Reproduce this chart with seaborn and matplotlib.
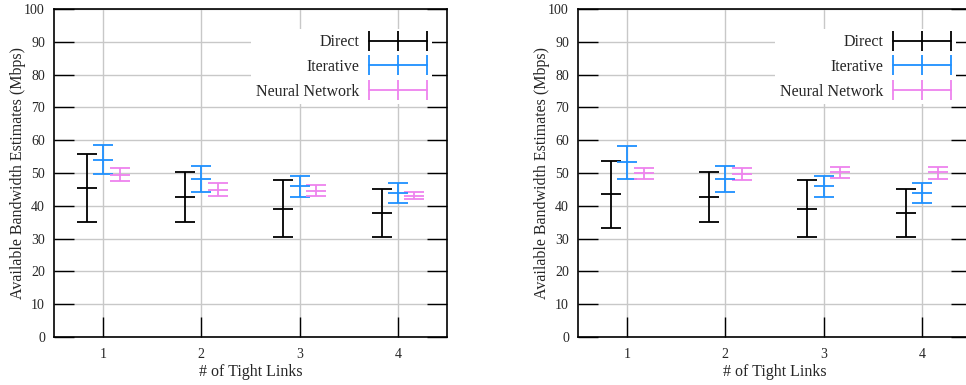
import numpy as np
import pandas as pd
import matplotlib
matplotlib.use("Agg")
import matplotlib.pyplot as plt
import seaborn as sns
from matplotlib.lines import Line2D
from matplotlib.legend_handler import HandlerLine2D

# ---------------- data ----------------
links = [1, 2, 3, 4]
series = ["Direct", "Iterative", "Neural Network"]
colors = ["#000000", "#1e90ff", "#ee82ee"]

# left panel
left_direct_mean = [45.4, 42.6, 39.0, 37.7]
left_direct_low = [35.0, 35.0, 30.6, 30.5]
left_direct_high = [55.8, 50.3, 47.8, 45.0]
left_iter_mean = [54.0, 48.2, 45.9, 44.0]
left_iter_low = [49.7, 44.1, 42.8, 40.9]
left_iter_high = [58.5, 52.2, 49.2, 46.8]
left_nn_mean = [49.5, 44.9, 44.5, 43.1]
left_nn_low = [47.6, 43.0, 42.9, 42.2]
left_nn_high = [51.4, 46.9, 46.2, 44.1]

# right panel
right_direct_mean = [43.6, 42.6, 39.0, 37.7]
right_direct_low = [33.3, 35.0, 30.6, 30.5]
right_direct_high = [53.8, 50.3, 47.8, 45.0]
right_iter_mean = [53.3, 48.2, 45.9, 44.0]
right_iter_low = [48.2, 44.1, 42.8, 40.9]
right_iter_high = [58.2, 52.2, 49.2, 46.8]
right_nn_mean = [49.9, 49.7, 50.2, 50.2]
right_nn_low = [48.2, 47.8, 48.6, 48.3]
right_nn_high = [51.5, 51.4, 51.8, 51.7]

yticks = [0, 10, 20, 30, 40, 50, 60, 70, 80, 90, 100]
xlabel = "# of Tight Links"
ylabel = "Available Bandwidth Estimates (Mbps)"


def make_frame(means, lows, highs):
    rows = []
    for s, m, lo, hi in zip(series, means, lows, highs):
        for l, mv, lv, hv in zip(links, m, lo, hi):
            rows.append(dict(series=s, links=l, mean=mv, low=lv, high=hv))
    return pd.DataFrame(rows)


left_df = make_frame([left_direct_mean, left_iter_mean, left_nn_mean],
                     [left_direct_low, left_iter_low, left_nn_low],
                     [left_direct_high, left_iter_high, left_nn_high])
right_df = make_frame([right_direct_mean, right_iter_mean, right_nn_mean],
                      [right_direct_low, right_iter_low, right_nn_low],
                      [right_direct_high, right_iter_high, right_nn_high])

# ---------------- style ----------------
sns.set_style("white")
plt.rcParams["font.family"] = ["Liberation Serif", "DejaVu Serif"]
plt.rcParams["mathtext.fontset"] = "dejavuserif"

DPI = 100
fig = plt.figure(figsize=(966 / DPI, 385 / DPI), dpi=DPI)

W, H = 966.0, 385.0
ax_w = 393 / W
ax_b = (H - 337) / H
ax_h = 328 / H
ax_left = fig.add_axes([54 / W, ax_b, ax_w, ax_h])
ax_right = fig.add_axes([578 / W, ax_b, ax_w, ax_h])

offsets = {"Direct": -1 / 6, "Iterative": 0.0, "Neural Network": 1 / 6}
palette = dict(zip(series, colors))
CAP = 7.2     # points (half width of cap)
LW = 1.3
FS = 11.5


def draw(ax, df):
    df = df.copy()
    df["xpos"] = df["links"] + df["series"].map(offsets)
    for s in series:
        d = df[df["series"] == s]
        ax.errorbar(d["xpos"], d["mean"],
                    yerr=[d["mean"] - d["low"], d["high"] - d["mean"]],
                    fmt="none", ecolor=palette[s], elinewidth=LW,
                    capsize=CAP, capthick=LW, zorder=3)
    sns.scatterplot(data=df, x="xpos", y="mean", hue="series",
                    palette=palette, marker="_", s=(2 * CAP) ** 2,
                    linewidth=LW, legend=False, ax=ax, zorder=4)

    ax.set_xlim(0.5, 4.5)
    ax.set_ylim(0, 100)
    ax.set_xticks(links)
    ax.set_xticklabels([str(l) for l in links])
    ax.set_yticks(yticks)
    ax.set_yticklabels([str(t) for t in yticks])
    ax.grid(True, color="#c8c8c8", linewidth=1.0, zorder=0)
    ax.set_axisbelow(True)
    ax.tick_params(axis="y", direction="in", length=14.4, width=1.0,
                   left=True, right=True, labelsize=10, pad=6.5, color="black")
    ax.tick_params(axis="x", direction="in", length=14.4, width=1.0,
                   bottom=True, top=False, labelsize=10, pad=8, color="black")
    for sp in ax.spines.values():
        sp.set_visible(True)
        sp.set_color("black")
        sp.set_linewidth(1.2)
    ax.set_xlabel(xlabel, fontsize=FS, labelpad=2)
    ax.set_ylabel(ylabel, fontsize=FS)
    ax.yaxis.set_label_coords(-0.0725, 0.5)

    handles = [Line2D([], [], color=c, marker="|", markersize=14.4,
                      markeredgewidth=LW, linewidth=LW) for c in colors]
    leg = ax.legend(handles, series, loc="upper right",
                    bbox_to_anchor=(0.962, 0.938), markerfirst=False,
                    numpoints=3, handlelength=3.63, handletextpad=0.63,
                    labelspacing=0.55, borderpad=0.3, borderaxespad=0,
                    fontsize=FS, frameon=True, fancybox=False,
                    handler_map={Line2D: HandlerLine2D(marker_pad=0)})
    leg.get_frame().set_facecolor("white")
    leg.get_frame().set_edgecolor("none")
    leg.get_frame().set_alpha(1.0)


draw(ax_left, left_df)
draw(ax_right, right_df)

fig.savefig("out.png", dpi=DPI)
